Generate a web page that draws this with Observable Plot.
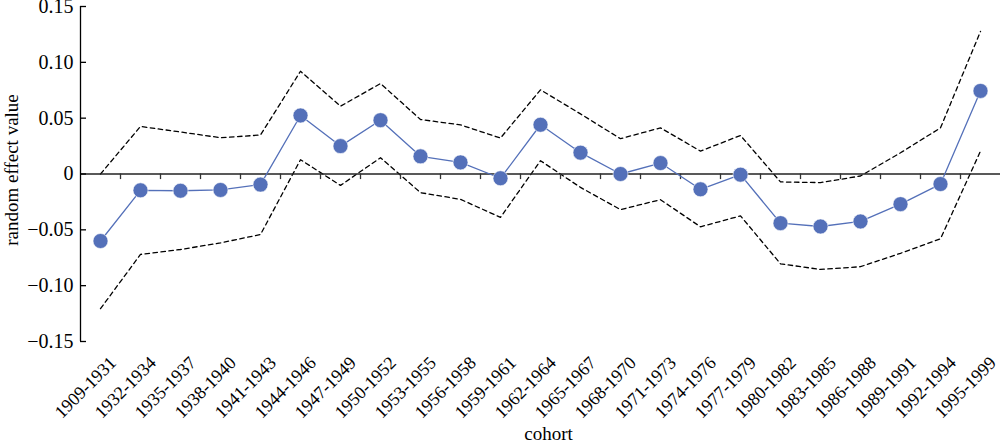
<!DOCTYPE html>
<html>
<head>
<meta charset="utf-8">
<script src="https://cdn.jsdelivr.net/npm/d3@7"></script>
<script src="https://cdn.jsdelivr.net/npm/@observablehq/plot@0.6"></script>
<style>
  html, body { margin: 0; padding: 0; background: #fff; }
  #chart svg { display: block; font-family: "Liberation Serif", "Times New Roman", serif; }
  #chart svg text { font-family: "Liberation Serif", "Times New Roman", serif; }
</style>
</head>
<body>
<div id="chart"></div>
<script>
const cohorts = ["1909-1931","1932-1934","1935-1937","1938-1940","1941-1943","1944-1946","1947-1949","1950-1952","1953-1955","1956-1958","1959-1961","1962-1964","1965-1967","1968-1970","1971-1973","1974-1976","1977-1979","1980-1982","1983-1985","1986-1988","1989-1991","1992-1994","1995-1999"];
const estimate = [-0.060, -0.0146, -0.015, -0.0143, -0.0095, 0.0524, 0.025, 0.0482, 0.0158, 0.0104, -0.0038, 0.0441, 0.0191, 0.000, 0.0098, -0.0137, -0.0006, -0.044, -0.047, -0.0425, -0.027, -0.009, 0.0744];
const upper = [0.000, 0.0426, 0.0376, 0.0325, 0.0349, 0.092, 0.0607, 0.081, 0.0488, 0.044, 0.0322, 0.0754, 0.0538, 0.0316, 0.0413, 0.0205, 0.0345, -0.0071, -0.0077, -0.0018, 0.019, 0.0413, 0.1277];
const lower = [-0.1206, -0.072, -0.0676, -0.0617, -0.0542, 0.0128, -0.0102, 0.0146, -0.0167, -0.0227, -0.0388, 0.0119, -0.012, -0.0319, -0.023, -0.0473, -0.0375, -0.0804, -0.0855, -0.083, -0.071, -0.058, 0.0205];
const yTicks = [-0.15, -0.10, -0.05, 0, 0.05, 0.10, 0.15];

const data = cohorts.map((c, i) => ({i, cohort: c, est: estimate[i], lo: lower[i], hi: upper[i]}));
const bounds = cohorts.slice(1).map((c, i) => i + 0.5);
const n = cohorts.length;
const blue = "#5470b9";
const font = "'Liberation Serif', 'Times New Roman', serif";
const fmt = d => d === 0 ? "0" : (d < 0 ? "\u2212" : "") + Math.abs(d).toFixed(2);

const chart = Plot.plot({
  width: 1000,
  height: 444,
  marginLeft: 80,
  marginRight: 0,
  marginTop: 6,
  marginBottom: 103,
  style: {fontFamily: font, color: "#000", background: "#fff", overflow: "visible"},
  x: {domain: [-0.5, n - 0.5], axis: null},
  y: {domain: [-0.15, 0.15], axis: null},
  marks: [
    // confidence bounds
    Plot.line(data, {x: "i", y: "hi", stroke: "#000", strokeWidth: 1.3, strokeDasharray: "4.5,3.5"}),
    Plot.line(data, {x: "i", y: "lo", stroke: "#000", strokeWidth: 1.3, strokeDasharray: "4.5,3.5"}),
    // zero line with ticks
    Plot.ruleY([0], {x1: -0.5, x2: n - 0.5, stroke: "#222", strokeWidth: 1.4}),
    Plot.ruleX(bounds, {x: d => d, y1: 0, y2: -0.005, stroke: "#333", strokeWidth: 1.3}),
    // y axis
    Plot.ruleX([-0.5], {y1: -0.15, y2: 0.15, stroke: "#000", strokeWidth: 1.3}),
    Plot.ruleY(yTicks, {y: d => d, x1: -0.5, x2: -0.35, stroke: "#000", strokeWidth: 1.3}),
    Plot.text(yTicks, {y: d => d, frameAnchor: "left", dx: -7, textAnchor: "end", text: fmt, fontSize: 20, fontFamily: font, fill: "#000"}),
    // estimates
    Plot.line(data, {x: "i", y: "est", stroke: blue, strokeWidth: 1.3}),
    Plot.dot(data, {x: "i", y: "est", r: 7.5, fill: blue, stroke: "#fff", strokeWidth: 0.6}),
    // x tick labels
    Plot.text(data, {x: "i", frameAnchor: "bottom", text: "cohort", rotate: -45, dx: -15, dy: 46, textAnchor: "middle", lineAnchor: "middle", fontSize: 18, fontFamily: font, fill: "#000"}),
    // axis titles
    Plot.text(["cohort"], {frameAnchor: "bottom", text: d => d, dx: 8, dy: 92, textAnchor: "middle", lineAnchor: "middle", fontSize: 19, fontFamily: font, fill: "#000"}),
    Plot.text(["random effect value"], {frameAnchor: "left", text: d => d, dx: -69, dy: -4, rotate: -90, textAnchor: "middle", lineAnchor: "middle", fontSize: 19, fontFamily: font, fill: "#000"})
  ]
});
document.getElementById("chart").appendChild(chart);
</script>
</body>
</html>
